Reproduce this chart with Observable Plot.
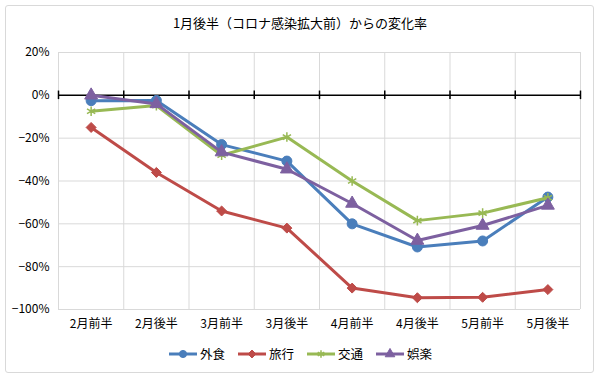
<!DOCTYPE html>
<html><head><meta charset="utf-8">
<script src="https://cdn.jsdelivr.net/npm/d3@7"></script>
<script src="https://cdn.jsdelivr.net/npm/@observablehq/plot@0.6"></script>
<style>
body{margin:0;background:#fff;font-family:"Noto Sans CJK JP",sans-serif;}
#wrap{position:relative;width:600px;height:377px;overflow:hidden;}
#frame{position:absolute;left:5px;top:5px;width:587px;height:366px;border:1px solid #d9d9d9;border-radius:3px;}
#title{position:absolute;left:0;width:600px;top:13px;text-align:center;font-size:13px;color:#000;}
#chart{position:absolute;left:0;top:40px;}
#legend{position:absolute;left:0;width:600px;top:344px;display:flex;justify-content:center;gap:12px;font-size:12.5px;align-items:center;}
#legend span{display:flex;align-items:center;gap:2px;}
</style></head>
<body><div id="wrap"><div id="frame"></div><div id="title">1月後半（コロナ感染拡大前）からの変化率</div><div id="chart"></div><div id="legend"></div></div>
<script>
const categories = ["2月前半","2月後半","3月前半","3月後半","4月前半","4月後半","5月前半","5月後半"];
const seriesNames = ["外食","旅行","交通","娯楽"];
const gaishoku = [-2.5,-2.4,-23,-30.7,-60,-70.8,-68,-47.5];
const ryoko = [-15,-36,-54,-62,-90,-94.5,-94.3,-90.7];
const kotsu = [-7.4,-4.8,-28,-19.5,-40,-58.5,-55,-47.8];
const goraku = [0,-4,-26.5,-34.5,-50.5,-67.8,-60.8,-51.4];
const yTicks = [20,0,-20,-40,-60,-80,-100];
const colors = ["#4a7ebb","#be4b48","#98b954","#7d60a0"];
const symbols = ["circle","diamond2","asterisk","triangle"];

const allSeries = [gaishoku, ryoko, kotsu, goraku];
const data = [];
allSeries.forEach((vals, s) => vals.forEach((v, i) => data.push({series: seriesNames[s], i, v})));
const bounds = d3.range(categories.length + 1).map(k => k - 0.5);

const marks = [
  Plot.ruleY(yTicks.filter(t => t !== 0), {x1: -0.5, x2: categories.length - 0.5, stroke: "#d9d9d9", strokeWidth: 1}),
  Plot.ruleX(bounds, {y1: -100, y2: 20, stroke: "#d9d9d9", strokeWidth: 1}),
  Plot.ruleY([0], {x1: -0.5, x2: categories.length - 0.5, stroke: "#000", strokeWidth: 1.5}),
  Plot.ruleX(bounds, {y1: -2, y2: 2, stroke: "#000", strokeWidth: 1.5}),
];
const radius = {circle: 5, diamond2: 4.5, asterisk: 4.5, triangle: 4.8};
seriesNames.forEach((name, s) => {
  const d = data.filter(r => r.series === name);
  marks.push(Plot.line(d, {x: "i", y: "v", stroke: colors[s], strokeWidth: 3}));
  const sym = symbols[s];
  if (sym === "asterisk") {
    marks.push(Plot.dot(d, {x: "i", y: "v", symbol: sym, stroke: colors[s], strokeWidth: 1.5, r: radius[sym]}));
  } else {
    marks.push(Plot.dot(d, {x: "i", y: "v", symbol: sym, fill: colors[s], stroke: colors[s], strokeWidth: 1, r: radius[sym]}));
  }
});

const plot = Plot.plot({
  width: 600, height: 300,
  marginLeft: 58, marginRight: 20, marginTop: 12, marginBottom: 31,
  style: {fontFamily: '"Noto Sans CJK JP", sans-serif', fontSize: "12px", color: "#000", background: "transparent"},
  x: {domain: [-0.5, categories.length - 0.5], ticks: d3.range(categories.length), tickFormat: i => categories[i], tickSize: 0, tickPadding: 10, label: null},
  y: {domain: [-100, 20], ticks: yTicks, tickFormat: v => (v < 0 ? "\u2212" + (-v) : v) + "%", tickSize: 0, tickPadding: 9, label: null},
  marks
});
document.getElementById("chart").appendChild(plot);

const legend = document.getElementById("legend");
seriesNames.forEach((name, s) => {
  const span = document.createElement("span");
  const svg = d3.create("svg").attr("width", 30).attr("height", 12);
  svg.append("line").attr("x1", 1).attr("x2", 29).attr("y1", 6).attr("y2", 6).attr("stroke", colors[s]).attr("stroke-width", 3);
  const symType = {circle: d3.symbolCircle, diamond2: d3.symbolDiamond2, asterisk: d3.symbolAsterisk, triangle: d3.symbolTriangle}[symbols[s]];
  const p = svg.append("path").attr("transform", "translate(15,6)").attr("d", d3.symbol(symType, 40)());
  if (symbols[s] === "asterisk") p.attr("fill", "none").attr("stroke", colors[s]).attr("stroke-width", 1.5);
  else p.attr("fill", colors[s]).attr("stroke", colors[s]);
  span.appendChild(svg.node());
  const t = document.createElement("span");
  t.textContent = name;
  span.appendChild(t);
  legend.appendChild(span);
});
</script></body></html>
